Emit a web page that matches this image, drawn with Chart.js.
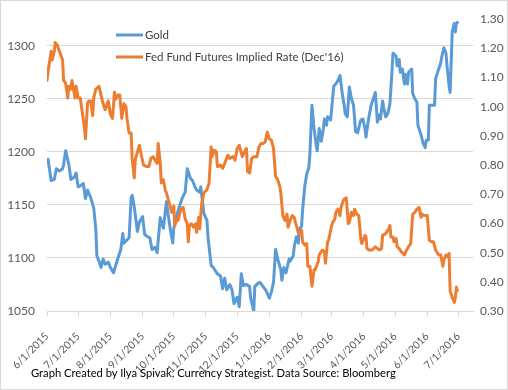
<!DOCTYPE html>
<html>
<head>
<meta charset="utf-8">
<title>Gold vs Fed Fund Futures</title>
<script src="https://cdn.jsdelivr.net/npm/chart.js@4/dist/chart.umd.min.js"></script>
<style>
  html, body { margin: 0; padding: 0; background: #fff; }
  #wrap { position: relative; width: 508px; height: 390px; }
  #frame { position: absolute; left: 0; top: 0; width: 508px; height: 390px; box-sizing: border-box; border: 1px solid #d9d9d9; pointer-events: none; }
  #note { position: absolute; left: 31px; top: 366px; font: 11.2px Lato, sans-serif; line-height: 14px; color: #000; white-space: nowrap; }
</style>
</head>
<body>
<div id="wrap">
  <canvas id="chart" width="508" height="390"></canvas>
  <div id="note">Graph Created by Ilya Spivak, Currency Strategist. Data Source: Bloomberg</div>
  <div id="frame"></div>
</div>
<script>
// gold price
var goldDates = [
  '2015-06-01','2015-06-02','2015-06-05','2015-06-08','2015-06-10','2015-06-13','2015-06-16','2015-06-17','2015-06-19','2015-06-22',
  '2015-06-24','2015-06-27','2015-06-29','2015-07-01','2015-07-03','2015-07-06','2015-07-08','2015-07-10','2015-07-13','2015-07-16',
  '2015-07-18','2015-07-19','2015-07-21','2015-07-23','2015-07-25','2015-07-27','2015-07-30','2015-08-01','2015-08-04','2015-08-08',
  '2015-08-11','2015-08-13','2015-08-14','2015-08-19','2015-08-21','2015-08-22','2015-08-24','2015-08-27','2015-08-29','2015-09-01',
  '2015-09-03','2015-09-06','2015-09-08','2015-09-10','2015-09-13','2015-09-15','2015-09-18','2015-09-21','2015-09-24','2015-09-26',
  '2015-09-28','2015-09-30','2015-10-01','2015-10-05','2015-10-09','2015-10-12','2015-10-14','2015-10-17','2015-10-19','2015-10-21',
  '2015-10-23','2015-10-26','2015-10-27','2015-10-30','2015-11-02','2015-11-03','2015-11-06','2015-11-08','2015-11-12','2015-11-15',
  '2015-11-17','2015-11-19','2015-11-21','2015-11-24','2015-11-26','2015-11-28','2015-12-01','2015-12-03','2015-12-05','2015-12-07',
  '2015-12-10','2015-12-13','2015-12-14','2015-12-17','2015-12-18','2015-12-21','2015-12-23','2015-12-26','2015-12-29','2016-01-01',
  '2016-01-03','2016-01-05','2016-01-07','2016-01-09','2016-01-12','2016-01-13','2016-01-15','2016-01-17','2016-01-20','2016-01-21',
  '2016-01-24','2016-01-25','2016-01-27','2016-01-29','2016-01-30','2016-02-01','2016-02-02','2016-02-04','2016-02-06','2016-02-08',
  '2016-02-09','2016-02-11','2016-02-13','2016-02-15','2016-02-16','2016-02-18','2016-02-20','2016-02-22','2016-02-23','2016-02-25',
  '2016-02-26','2016-02-29','2016-03-01','2016-03-03','2016-03-05','2016-03-08','2016-03-09','2016-03-11','2016-03-13','2016-03-14',
  '2016-03-16','2016-03-18','2016-03-20','2016-03-22','2016-03-24','2016-03-26','2016-03-29','2016-03-31','2016-04-02','2016-04-03',
  '2016-04-05','2016-04-07','2016-04-08','2016-04-11','2016-04-12','2016-04-14','2016-04-16','2016-04-17','2016-04-19','2016-04-20',
  '2016-04-22','2016-04-24','2016-04-26','2016-04-28','2016-04-29','2016-05-02','2016-05-03','2016-05-05','2016-05-06','2016-05-08',
  '2016-05-10','2016-05-11','2016-05-13','2016-05-14','2016-05-17','2016-05-18','2016-05-20','2016-05-22','2016-05-23','2016-05-26',
  '2016-05-28','2016-05-30','2016-05-31','2016-06-02','2016-06-03','2016-06-06','2016-06-08','2016-06-09','2016-06-12','2016-06-14',
  '2016-06-15','2016-06-17','2016-06-19','2016-06-20','2016-06-22','2016-06-23','2016-06-25','2016-06-27','2016-06-28','2016-06-29',
  '2016-06-30'
];
var goldPrices = [
  1190,1193,1173,1174,1184,1182,1184,1188,1201,1188,
  1174,1176,1180,1167,1168,1170,1156,1164,1157,1147,
  1127,1102,1097,1091,1099,1094,1096,1091,1086,1099,
  1108,1123,1114,1119,1157,1159,1148,1125,1134,1139,
  1122,1120,1119,1108,1110,1105,1138,1128,1153,1138,
  1125,1114,1128,1144,1156,1162,1184,1175,1173,1168,
  1164,1162,1167,1142,1135,1119,1093,1091,1085,1083,
  1071,1081,1070,1075,1070,1057,1063,1054,1085,1074,
  1075,1073,1062,1050,1073,1076,1077,1073,1069,1062,
  1068,1077,1108,1099,1089,1079,1091,1086,1099,1097,
  1102,1111,1120,1114,1127,1130,1145,1167,1179,1185,
  1198,1244,1222,1207,1201,1222,1210,1222,1231,1225,
  1233,1230,1241,1262,1264,1269,1272,1256,1244,1236,
  1233,1261,1250,1244,1219,1218,1230,1231,1222,1214,
  1228,1239,1244,1253,1256,1228,1235,1231,1248,1242,
  1233,1236,1245,1275,1293,1290,1281,1287,1275,1278,
  1264,1273,1264,1275,1278,1255,1250,1247,1225,1216,
  1208,1204,1211,1211,1244,1244,1244,1269,1278,1284,
  1290,1298,1293,1281,1262,1256,1313,1321,1313,1321,
  1322
];

// Fed fund futures implied rate (Dec'16)
var rateDates = [
  '2015-06-01','2015-06-02','2015-06-05','2015-06-06','2015-06-08','2015-06-09','2015-06-11','2015-06-14','2015-06-16','2015-06-17',
  '2015-06-19','2015-06-21','2015-06-22','2015-06-24','2015-06-25','2015-06-28','2015-06-29','2015-07-01','2015-07-03','2015-07-05',
  '2015-07-07','2015-07-08','2015-07-10','2015-07-11','2015-07-13','2015-07-15','2015-07-16','2015-07-18','2015-07-21','2015-07-23',
  '2015-07-25','2015-07-27','2015-07-29','2015-07-30','2015-08-01','2015-08-03','2015-08-05','2015-08-06','2015-08-08','2015-08-10',
  '2015-08-12','2015-08-14','2015-08-16','2015-08-17','2015-08-19','2015-08-21','2015-08-22','2015-08-24','2015-08-25','2015-08-28',
  '2015-08-29','2015-08-31','2015-09-02','2015-09-05','2015-09-07','2015-09-09','2015-09-11','2015-09-15','2015-09-16','2015-09-18',
  '2015-09-19','2015-09-21','2015-09-23','2015-09-24','2015-09-26','2015-09-27','2015-09-29','2015-10-01','2015-10-02','2015-10-04',
  '2015-10-05','2015-10-08','2015-10-10','2015-10-12','2015-10-14','2015-10-15','2015-10-16','2015-10-18','2015-10-20','2015-10-22',
  '2015-10-23','2015-10-25','2015-10-26','2015-10-28','2015-10-30','2015-11-02','2015-11-04','2015-11-06','2015-11-07','2015-11-09',
  '2015-11-11','2015-11-12','2015-11-15','2015-11-17','2015-11-19','2015-11-22','2015-11-24','2015-11-27','2015-11-29','2015-12-01',
  '2015-12-03','2015-12-06','2015-12-08','2015-12-10','2015-12-11','2015-12-13','2015-12-15','2015-12-17','2015-12-20','2015-12-22',
  '2015-12-24','2015-12-26','2015-12-28','2015-12-30','2016-01-01','2016-01-03','2016-01-05','2016-01-07','2016-01-09','2016-01-11',
  '2016-01-12','2016-01-14','2016-01-16','2016-01-18','2016-01-19','2016-01-21','2016-01-23','2016-01-25','2016-01-26','2016-01-28',
  '2016-01-29','2016-02-01','2016-02-02','2016-02-04','2016-02-06','2016-02-07','2016-02-09','2016-02-11','2016-02-13','2016-02-14',
  '2016-02-17','2016-02-18','2016-02-21','2016-02-23','2016-02-24','2016-02-26','2016-02-27','2016-03-01','2016-03-02','2016-03-04',
  '2016-03-05','2016-03-07','2016-03-09','2016-03-10','2016-03-12','2016-03-13','2016-03-15','2016-03-17','2016-03-18','2016-03-20',
  '2016-03-22','2016-03-23','2016-03-25','2016-03-27','2016-03-29','2016-03-30','2016-04-02','2016-04-03','2016-04-04','2016-04-06',
  '2016-04-09','2016-04-12','2016-04-14','2016-04-16','2016-04-18','2016-04-19','2016-04-22','2016-04-25','2016-04-26','2016-04-27',
  '2016-04-29','2016-04-30','2016-05-02','2016-05-03','2016-05-05','2016-05-07','2016-05-10','2016-05-12','2016-05-14','2016-05-16',
  '2016-05-18','2016-05-20','2016-05-22','2016-05-24','2016-05-26','2016-05-27','2016-05-29','2016-06-01','2016-06-03','2016-06-05',
  '2016-06-07','2016-06-09','2016-06-12','2016-06-14','2016-06-16','2016-06-17','2016-06-19','2016-06-20','2016-06-22','2016-06-23',
  '2016-06-25','2016-06-27','2016-06-28','2016-06-29','2016-06-30'
];
var impliedRates = [
  1.09,1.12,1.19,1.16,1.19,1.22,1.21,1.18,1.16,1.09,
  1.08,1.03,1.07,1.06,1.09,1.03,1.07,1.03,1.03,0.98,
  0.93,0.89,1.01,1.02,1.02,0.97,1.03,1.06,1.07,1.04,
  1.01,0.99,1.01,1.02,0.975,0.96,1.05,1.025,1.04,1.04,
  0.96,1.01,1.00,0.96,0.91,0.91,0.82,0.756,0.82,0.857,
  0.868,0.83,0.80,0.795,0.795,0.823,0.829,0.806,0.874,0.806,
  0.739,0.75,0.711,0.705,0.677,0.666,0.638,0.66,0.593,0.615,
  0.61,0.649,0.655,0.615,0.599,0.537,0.593,0.599,0.587,0.599,
  0.57,0.621,0.582,0.672,0.705,0.716,0.739,0.862,0.829,0.851,
  0.845,0.795,0.80,0.789,0.806,0.834,0.823,0.829,0.817,0.857,
  0.868,0.829,0.845,0.857,0.778,0.773,0.823,0.829,0.829,0.862,
  0.874,0.874,0.879,0.913,0.89,0.885,0.857,0.761,0.75,0.728,
  0.705,0.627,0.61,0.632,0.587,0.61,0.627,0.621,0.604,0.582,
  0.565,0.576,0.537,0.526,0.531,0.453,0.453,0.385,0.441,0.441,
  0.469,0.492,0.509,0.503,0.464,0.537,0.542,0.593,0.604,0.615,
  0.638,0.649,0.627,0.655,0.677,0.683,0.688,0.599,0.604,0.638,
  0.627,0.649,0.632,0.627,0.548,0.531,0.559,0.554,0.514,0.509,
  0.509,0.52,0.514,0.509,0.514,0.559,0.565,0.582,0.593,0.554,
  0.554,0.537,0.548,0.52,0.514,0.503,0.492,0.509,0.52,0.531,
  0.632,0.638,0.649,0.655,0.621,0.632,0.627,0.627,0.542,0.537,
  0.537,0.509,0.492,0.492,0.453,0.475,0.492,0.486,0.497,0.368,
  0.346,0.329,0.346,0.382,0.37
];

var monthLabels = ['6/1/2015','7/1/2015','8/1/2015','9/1/2015','10/1/2015','11/1/2015','12/1/2015',
                   '1/1/2016','2/1/2016','3/1/2016','4/1/2016','5/1/2016','6/1/2016','7/1/2016'];
var goldTicks = [1050, 1100, 1150, 1200, 1250, 1300];
var rateTicks = [0.3, 0.4, 0.5, 0.6, 0.7, 0.8, 0.9, 1.0, 1.1, 1.2, 1.3];
var axisEnd = '2016-07-15';

function isoDay(s) { return Date.parse(s) / 864e5; }
function labelDay(s) {
    var p = s.split('/');
    return Date.UTC(+p[2], +p[0] - 1, +p[1]) / 864e5;
}
function points(dates, vals) {
    return dates.map(function(d, i){ return { x: isoDay(d), y: vals[i] }; });
}

Chart.defaults.font.family = 'Lato, sans-serif';
Chart.defaults.font.size = 12;
Chart.defaults.color = '#595959';

// legend drawn inside the plot, top left like the original
var insideLegend = {
    id: 'insideLegend',
    afterDraw: function(chart){
        var ctx = chart.ctx;
        var x = 116, y = 35;
        ctx.save();
        ctx.font = '11.5px Lato, sans-serif';
        ctx.textBaseline = 'middle';
        chart.data.datasets.forEach(function(ds){
            ctx.strokeStyle = ds.borderColor;
            ctx.lineWidth = 3;
            ctx.beginPath();
            ctx.moveTo(x, y);
            ctx.lineTo(x + 27, y);
            ctx.stroke();
            ctx.fillStyle = '#404040';
            ctx.fillText(ds.label, x + 29, y);
            y += 22;
        });
        ctx.restore();
    }
};

var myChart = new Chart(document.getElementById('chart'), {
    type: 'line',
    data: {
        datasets: [
            {
                label: 'Gold',
                data: points(goldDates, goldPrices),
                borderColor: '#5B9BD5',
                backgroundColor: '#5B9BD5',
                borderWidth: 3,
                pointRadius: 0,
                borderJoinStyle: 'round',
                borderCapStyle: 'round',
                yAxisID: 'y',
                order: 1
            },
            {
                label: "Fed Fund Futures Implied Rate (Dec'16)",
                data: points(rateDates, impliedRates),
                borderColor: '#ED7D31',
                backgroundColor: '#ED7D31',
                borderWidth: 3,
                pointRadius: 0,
                borderJoinStyle: 'round',
                borderCapStyle: 'round',
                yAxisID: 'y1',
                order: 0
            }
        ]
    },
    options: {
        responsive: false,
        animation: false,
        layout: { padding: { left: 0, right: 0, top: 15, bottom: 12 } },
        plugins: {
            legend: { display: false },
            tooltip: { enabled: false }
        },
        scales: {
            x: {
                type: 'linear',
                min: labelDay(monthLabels[0]),
                max: isoDay(axisEnd),
                afterBuildTicks: function(scale){
                    scale.ticks = monthLabels.map(function(l){ return { value: labelDay(l) }; });
                },
                afterFit: function(scale){ scale.height = 67; },
                ticks: {
                    autoSkip: false,
                    minRotation: 45,
                    maxRotation: 45,
                    padding: 14,
                    font: { size: 10.5 },
                    callback: function(v, i){ return monthLabels[i]; }
                },
                grid: { drawOnChartArea: false, drawTicks: true, tickLength: 5, color: '#d9d9d9' },
                border: { display: true, color: '#d9d9d9' }
            },
            y: {
                position: 'left',
                min: 1050,
                max: 1325,
                afterBuildTicks: function(scale){
                    scale.ticks = goldTicks.map(function(v){ return { value: v }; });
                },
                afterFit: function(scale){ scale.width = 47; },
                ticks: { padding: 12, callback: function(v){ return String(v); } },
                grid: { color: '#d9d9d9', drawTicks: false },
                border: { display: false }
            },
            y1: {
                position: 'right',
                min: 0.3,
                max: 1.3,
                afterBuildTicks: function(scale){
                    scale.ticks = rateTicks.map(function(v){ return { value: v }; });
                },
                afterFit: function(scale){ scale.width = 35; },
                ticks: { padding: 7, callback: function(v){ return v.toFixed(2); } },
                grid: { display: false, drawTicks: false },
                border: { display: false }
            }
        }
    },
    plugins: [insideLegend]
});
</script>
</body>
</html>
